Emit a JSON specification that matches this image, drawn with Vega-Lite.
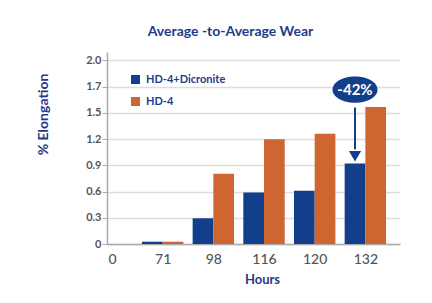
{
  "$schema": "https://vega.github.io/schema/vega-lite/v6.json",
  "autosize": {"type": "none"},
  "padding": {"left": 107, "top": 52, "right": 32, "bottom": 59},
  "width": 293,
  "height": 192,
  "background": "white",
  "config": {"font": "Lato", "view": {"stroke": null}},
  "title": {"text": "Average -to-Average Wear", "fontSize": 14, "fontWeight": "bold", "color": "#1f3a8a", "dx": -23, "offset": 13, "anchor": "middle"},
  "datasets": {
    "bars": [
      {"hours": "71", "idx": 1, "series": "HD-4+Dicronite", "value": 0.025},
      {"hours": "71", "idx": 1, "series": "HD-4", "value": 0.025},
      {"hours": "98", "idx": 2, "series": "HD-4+Dicronite", "value": 0.28},
      {"hours": "98", "idx": 2, "series": "HD-4", "value": 0.765},
      {"hours": "116", "idx": 3, "series": "HD-4+Dicronite", "value": 0.56},
      {"hours": "116", "idx": 3, "series": "HD-4", "value": 1.14},
      {"hours": "120", "idx": 4, "series": "HD-4+Dicronite", "value": 0.58},
      {"hours": "120", "idx": 4, "series": "HD-4", "value": 1.2},
      {"hours": "132", "idx": 5, "series": "HD-4+Dicronite", "value": 0.875},
      {"hours": "132", "idx": 5, "series": "HD-4", "value": 1.49}
    ],
    "note": [{"idx": 5, "label": "-42%", "top": 1.486, "base": 1.03, "head": 0.955, "bubble": 1.68}]
  },
  "resolve": {"axis": {"x": "independent", "y": "independent"}},
  "layer": [
    {"data": {"name": "bars"},
      "encoding": {
        "x": {"field": "idx", "type": "quantitative",
          "scale": {"domain": [0, 5.585], "nice": false, "zero": false},
          "axis": {"values": [0, 1, 2, 3, 4, 5], "labelExpr": "['0','71','98','116','120','132'][datum.value]",
            "grid": false, "ticks": false, "domainColor": "#aaaaaa", "domainWidth": 1.5,
            "labelFontSize": 14, "labelColor": "#555555", "labelPadding": 8, "labelFontWeight": 500,
            "title": "Hours", "titleFontSize": 13, "titleFontWeight": "bold", "titleColor": "#1f3a8a", "titlePadding": 7, "titleX": 155}},
        "y": {"field": "value", "type": "quantitative",
          "scale": {"domain": [0, 2.09], "nice": false},
          "axis": {"values": [0, 0.2857142857, 0.5714285714, 0.8571428571, 1.1428571429, 1.4285714286, 1.7142857143, 2.0],
            "labelExpr": "['0','0.3','0.6','0.9','1.2','1.5','1.7','2.0'][round(datum.value*3.5)]",
            "domainColor": "#aaaaaa", "domainWidth": 1.5, "tickColor": "#aaaaaa", "tickSize": 5, "labelPadding": 1,
            "labelFontSize": 11, "labelColor": "#555555", "labelFontWeight": "bold",
            "gridColor": "#dddddd", "gridWidth": 1.5,
            "title": "% Elongation", "titleFontSize": 14, "titleFontWeight": "bold", "titleColor": "#1f3a8a",
            "titleX": -64, "titleY": 62, "titleBaseline": "middle", "titleAlign": "center"}},
        "color": {"field": "series", "type": "nominal",
          "scale": {"domain": ["HD-4+Dicronite", "HD-4"], "range": ["#123f8c", "#cf6631"]},
          "legend": {"orient": "none", "legendX": 23, "legendY": 22, "title": null, "symbolType": "square", "symbolSize": 81,
            "symbolStrokeWidth": 0, "labelFontSize": 11, "labelFontWeight": "bold", "labelColor": "#1f3a8a", "rowPadding": 10, "labelOffset": 5}}
      },
      "layer": [
        {"transform": [{"filter": "datum.series === 'HD-4+Dicronite'"}], "mark": {"type": "bar", "width": 20.7, "xOffset": -10.35}},
        {"transform": [{"filter": "datum.series === 'HD-4'"}], "mark": {"type": "bar", "width": 20.7, "xOffset": 10.35}}
      ]},
    {"data": {"name": "note"},
      "encoding": {"x": {"field": "idx", "type": "quantitative", "axis": null}},
      "layer": [
        {"mark": {"type": "rule", "color": "#123f8c", "strokeWidth": 2, "xOffset": -10.35},
          "encoding": {"y": {"field": "top", "type": "quantitative", "axis": null}, "y2": {"field": "base"}}},
        {"mark": {"type": "point", "shape": "triangle-down", "filled": true, "opacity": 1, "size": 150, "color": "#123f8c", "xOffset": -10.35},
          "encoding": {"y": {"field": "head", "type": "quantitative", "axis": null}}},
        {"mark": {"type": "point", "shape": "M-1,0A1,0.58,0,1,0,1,0A1,0.58,0,1,0,-1,0Z", "filled": true, "opacity": 1, "size": 2025, "color": "#123f8c", "xOffset": -10.35},
          "encoding": {"y": {"field": "bubble", "type": "quantitative", "axis": null}}},
        {"mark": {"type": "text", "fontSize": 15, "fontWeight": "bold", "color": "white", "xOffset": -10.35},
          "encoding": {"y": {"field": "bubble", "type": "quantitative", "axis": null}, "text": {"field": "label"}}}
      ]}
  ]
}
